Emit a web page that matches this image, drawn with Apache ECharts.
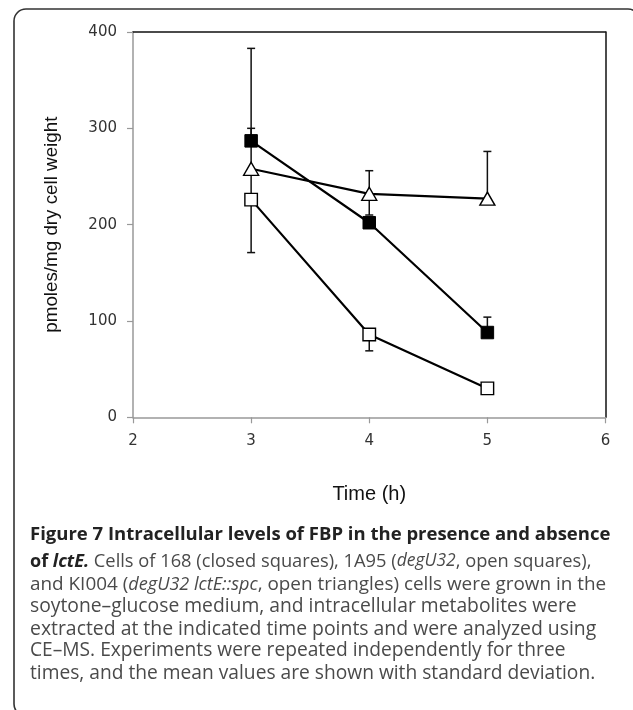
<!DOCTYPE html>
<html><head><meta charset="utf-8">
<script src="https://cdn.jsdelivr.net/npm/echarts@6/dist/echarts.min.js"></script>
<style>html,body{margin:0;padding:0;background:#fff}#c{width:633px;height:710px}</style>
</head><body><div id="c"></div>
<script>
// ---- data ----
const timePoints = [3, 4, 5];
const xTicks = [2, 3, 4, 5, 6];
const yTicks = [0, 100, 200, 300, 400];
// 168 (closed squares)
const strain168 = [287, 202, 88];
const strain168ErrUp = [13, 0, 16];
const strain168ErrDown = [0, 0, 0];
// 1A95 (open squares)
const strain1A95 = [226, 86, 30];
const strain1A95ErrUp = [0, 0, 0];
const strain1A95ErrDown = [55, 17, 0];
// KI004 (open triangles)
const strainKI004 = [258, 232, 227];
const strainKI004ErrUp = [125, 24, 49];
const strainKI004ErrDown = [30, 22, 0];

const xLabel = 'Time (h)';
const yLabel = 'pmoles/mg dry cell weight';

function pts(vals) { return timePoints.map((t, i) => [t, vals[i]]); }
function errData(vals, up, down) {
  const out = [];
  timePoints.forEach((t, i) => {
    if (up[i] > 0) out.push([t, vals[i], vals[i] + up[i], 1]);
    if (down[i] > 0) out.push([t, vals[i] - down[i], vals[i], 0]);
  });
  return out;
}
const allErr = [].concat(
  errData(strain168, strain168ErrUp, strain168ErrDown),
  errData(strain1A95, strain1A95ErrUp, strain1A95ErrDown),
  errData(strainKI004, strainKI004ErrUp, strainKI004ErrDown)
);

const chart = echarts.init(document.getElementById('c'), null, {renderer: 'canvas'});
const tickFont = {fontFamily: 'DejaVu Sans', fontSize: 15, color: '#333'};
const lineStyle = {color: '#000', width: 2.2};
const normalColor = '#4a4a4a', boldColor = '#222';
function rich(ns, bs) {
  return {
    b: {fontFamily: 'Open Sans', fontWeight: 'bold', fontSize: bs, fill: boldColor},
    bi: {fontFamily: 'Open Sans', fontWeight: 'bold', fontStyle: 'italic', fontSize: bs, fill: boldColor},
    n: {fontFamily: 'Open Sans', fontSize: ns, fill: normalColor},
    i: {fontFamily: 'Open Sans', fontStyle: 'italic', fontSize: ns - 0.8, fill: normalColor}
  };
}
const dy = 4.5;

chart.setOption({
  animation: false,
  backgroundColor: '#fff',
  grid: {left: 133, top: 32, right: 27.5, bottom: 292.7, containLabel: false},
  xAxis: [{
    type: 'value', min: xTicks[0], max: xTicks[xTicks.length - 1], interval: 1,
    position: 'bottom',
    axisLine: {onZero: false, lineStyle: {color: '#999', width: 1.5}},
    axisTick: {show: true, length: 6, lineStyle: {color: '#999', width: 1.2}},
    axisLabel: Object.assign({margin: 16}, tickFont),
    splitLine: {show: false},
    name: xLabel, nameLocation: 'middle', nameGap: 67,
    nameTextStyle: {fontFamily: 'Liberation Sans', fontSize: 20, color: '#111'}
  }, {
    type: 'value', min: xTicks[0], max: xTicks[xTicks.length - 1], position: 'top',
    axisLine: {show: true, onZero: false, lineStyle: {color: '#111', width: 1.5}},
    axisTick: {show: false}, axisLabel: {show: false}, splitLine: {show: false}
  }],
  yAxis: [{
    type: 'value', min: yTicks[0], max: yTicks[yTicks.length - 1], interval: 100,
    position: 'left',
    axisLine: {show: true, onZero: false, lineStyle: {color: '#999', width: 1.5}},
    axisTick: {show: true, length: 6, lineStyle: {color: '#999', width: 1.2}},
    axisLabel: Object.assign({margin: 16}, tickFont),
    splitLine: {show: false},
    name: yLabel, nameLocation: 'middle', nameGap: 72,
    nameTextStyle: {fontFamily: 'Liberation Sans', fontSize: 18.8, color: '#111'}
  }, {
    type: 'value', min: yTicks[0], max: yTicks[yTicks.length - 1], position: 'right',
    axisLine: {show: true, onZero: false, lineStyle: {color: '#111', width: 1.5}},
    axisTick: {show: false}, axisLabel: {show: false}, splitLine: {show: false}
  }],
  graphic: [
    {type: 'rect', shape: {x: 14, y: 9, width: 626, height: 707, r: 12},
     style: {fill: 'none', stroke: '#333', lineWidth: 1.6}, silent: true},
    {type: 'text', left: 30, top: 521 + dy, style: {text: '{b|Figure 7 Intracellular levels of FBP in the presence and absence}', rich: rich(19.2, 18.5)}},
    {type: 'text', left: 30, top: 548 + dy, style: {
      text: '{b|of }{bi|lctE.}{n| Cells of 168 (closed squares), 1A95 (}{i|degU32}{n|, open squares),}',
      rich: rich(18.3, 18.0)}},
    {type: 'text', left: 30, top: 570.5 + dy, style: {
      text: '{n|and KI004 (}{i|degU32 lctE::spc}{n|, open triangles) cells were grown in the}',
      rich: rich(18.9, 18.5)}},
    {type: 'text', left: 30, top: 592.5 + dy, style: {text: '{n|soytone\u2013glucose medium, and intracellular metabolites were}', rich: rich(19.3, 18.5)}},
    {type: 'text', left: 30, top: 615 + dy, style: {text: '{n|extracted at the indicated time points and were analyzed using}', rich: rich(19.4, 18.5)}},
    {type: 'text', left: 30, top: 637 + dy, style: {text: '{n|CE\u2013MS. Experiments were repeated independently for three}', rich: rich(19.2, 18.5)}},
    {type: 'text', left: 30, top: 660 + dy, style: {text: '{n|times, and the mean values are shown with standard deviation.}', rich: rich(19.2, 18.5)}}
  ],
  series: [
    {
      type: 'custom', name: 'error bars', z: 1,
      renderItem: function (params, api) {
        const x = api.value(0), lo = api.value(1), hi = api.value(2), capHi = api.value(3);
        const a = api.coord([x, hi]), b = api.coord([x, lo]);
        const cy = capHi ? a[1] : b[1];
        return {type: 'group', children: [
          {type: 'line', shape: {x1: a[0], y1: a[1], x2: b[0], y2: b[1]}, style: {stroke: '#111', lineWidth: 1.5}},
          {type: 'line', shape: {x1: a[0] - 4, y1: cy, x2: a[0] + 4, y2: cy}, style: {stroke: '#111', lineWidth: 1.5}}
        ]};
      },
      encode: {x: 0, y: [1, 2]},
      data: allErr
    },
    {
      type: 'line', name: '168', z: 3, data: pts(strain168),
      symbol: 'rect', symbolSize: 12.5,
      itemStyle: {color: '#000', borderColor: '#000', borderWidth: 1},
      lineStyle: lineStyle
    },
    {
      type: 'line', name: '1A95', z: 3, data: pts(strain1A95),
      symbol: 'rect', symbolSize: 12.5,
      itemStyle: {color: '#fff', borderColor: '#000', borderWidth: 1.4},
      lineStyle: lineStyle
    },
    {
      type: 'line', name: 'KI004', z: 3, data: pts(strainKI004),
      symbol: 'triangle', symbolSize: [15, 13],
      itemStyle: {color: '#fff', borderColor: '#000', borderWidth: 1.4},
      lineStyle: lineStyle
    }
  ]
});
</script></body></html>
